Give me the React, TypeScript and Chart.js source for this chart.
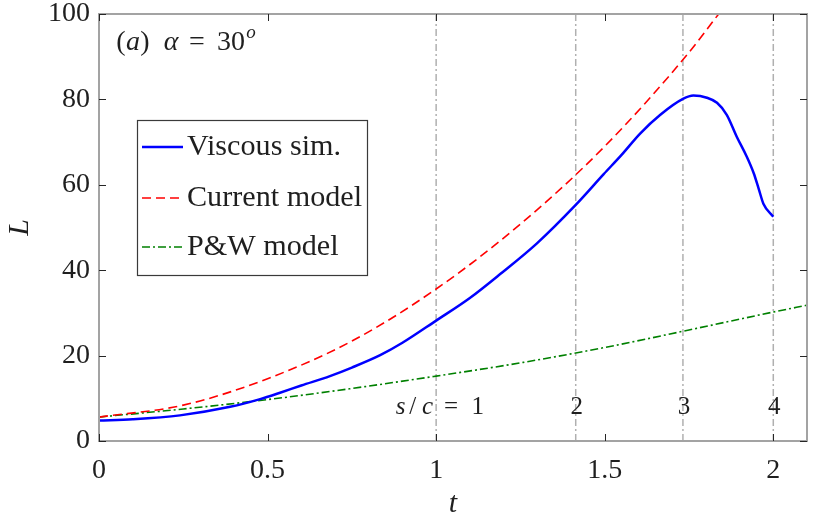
import { useEffect, useRef } from 'react';
import { Chart, registerables } from 'chart.js';

Chart.register(...registerables);

// ---- data ----
const viscousT = [0, 0.1, 0.24, 0.389, 0.478, 0.537, 0.6, 0.685, 0.75, 0.834, 0.9, 1.0, 1.1, 1.19, 1.299, 1.414, 1.497, 1.55, 1.605, 1.665, 1.732, 1.763, 1.803, 1.833, 1.862, 1.892, 1.92, 1.942, 1.957, 1.971, 2.0];
const viscousL = [4.8, 5.1, 6.0, 8.0, 9.8, 11.3, 13.0, 15.2, 17.2, 20.1, 23.0, 28.2, 33.5, 39.1, 46.3, 55.3, 62.5, 67.0, 72.0, 76.4, 80.1, 80.9, 80.4, 79.2, 76.4, 71.2, 66.8, 62.7, 59.0, 55.5, 52.5];

const currentT = [0, 0.25, 0.5, 0.75, 1.0, 1.25, 1.5, 1.75, 1.838, 1.86];
const currentL = [5.6, 8.4, 14.6, 23.4, 35.6, 50.8, 69.0, 91.0, 100, 102.2];

const pwT = [0, 0.25, 0.5, 0.75, 1.0, 1.25, 1.5, 1.75, 2.0, 2.1];
const pwL = [5.6, 7.5, 9.7, 12.3, 15.2, 18.3, 21.9, 26.0, 30.2, 31.8];

const seriesLabels = ['Viscous sim.', 'Current model', 'P&W model'];
const seriesColors = ['#0000ff', '#ff0000', '#008000'];

const sLineT = [1, 1.414, 1.732, 2];
const sLineLabels = ['1', '2', '3', '4'];

const xTicks = [0, 0.5, 1, 1.5, 2];
const yTicks = [0, 20, 40, 60, 80, 100];

const SERIF = "'Liberation Serif', 'Times New Roman', serif";
const TXT = '#1f1f1f';

const toPts = (xs: number[], ys: number[]) => xs.map((x, i) => ({ x, y: ys[i] }));

const decor = {
  id: 'decor',
  beforeDraw(chart: any) {
    const { ctx, width, height } = chart;
    ctx.save();
    ctx.fillStyle = '#ffffff';
    ctx.fillRect(0, 0, width, height);
    ctx.restore();
  },
  afterDatasetsDraw(chart: any) {
    const { ctx, chartArea: a, scales } = chart;
    const xs = scales.x, ys = scales.y;
    ctx.save();
    ctx.strokeStyle = '#a3a3a3';
    ctx.lineWidth = 2;
    ctx.strokeRect(a.left, a.top, a.right - a.left, a.bottom - a.top);
    ctx.strokeStyle = '#262626';
    ctx.lineWidth = 1;
    const tl = 7;
    ctx.beginPath();
    xTicks.forEach((v) => {
      const px = Math.round(xs.getPixelForValue(v)) + 0.5;
      ctx.moveTo(px, a.bottom); ctx.lineTo(px, a.bottom - tl);
      ctx.moveTo(px, a.top); ctx.lineTo(px, a.top + tl);
    });
    yTicks.forEach((v) => {
      const py = Math.round(ys.getPixelForValue(v)) + 0.5;
      ctx.moveTo(a.left, py); ctx.lineTo(a.left + tl, py);
      ctx.moveTo(a.right, py); ctx.lineTo(a.right - tl, py);
    });
    ctx.stroke();
    ctx.restore();
  },
  afterDraw(chart: any) {
    const { ctx, chartArea: a, scales } = chart;
    const xs = scales.x;
    ctx.save();
    ctx.fillStyle = TXT;
    ctx.textBaseline = 'alphabetic';
    ctx.textAlign = 'center';

    // title (a) alpha = 30^o
    const up = `28px ${SERIF}`;
    const it = `italic 28px ${SERIF}`;
    const segs: [string, string, number, number][] = [
      ['(', up, 121, 50], ['a', it, 133, 50], [')', up, 145, 50],
      ['\u03b1', it, 171, 50], ['=', up, 197, 50], ['30', up, 231, 50],
      ['o', `italic 19px ${SERIF}`, 251, 38],
    ];
    segs.forEach(([t, f, x, y]) => { ctx.font = f; ctx.fillText(t, x, y); });

    // s/c labels
    sLineT.forEach((tv, i) => {
      const px = xs.getPixelForValue(tv);
      if (i === 0) {
        const parts: [string, string, number][] = [
          ['s', `italic 25px ${SERIF}`, -35.5], ['/', `25px ${SERIF}`, -23.5],
          ['c', `italic 25px ${SERIF}`, -8.5], ['=', `25px ${SERIF}`, 15],
          [sLineLabels[0], `25px ${SERIF}`, 41.5],
        ];
        parts.forEach(([t, f, dx]) => { ctx.font = f; ctx.fillText(t, px + dx, 414); });
      } else {
        ctx.font = `25px ${SERIF}`;
        ctx.fillText(sLineLabels[i], px + 1, 414);
      }
    });

    // axis titles
    ctx.font = `italic 30px ${SERIF}`;
    ctx.fillText('t', (a.left + a.right) / 2, 512);
    ctx.save();
    ctx.translate(28, (a.top + a.bottom) / 2);
    ctx.rotate(-Math.PI / 2);
    ctx.fillText('L', 0, 0);
    ctx.restore();

    // legend
    const lx = 137, ly = 120, lw = 230, lh = 155;
    ctx.fillStyle = '#ffffff';
    ctx.fillRect(lx, ly, lw, lh);
    ctx.strokeStyle = '#3a3a3a';
    ctx.lineWidth = 1.2;
    ctx.strokeRect(lx + 0.5, ly + 0.5, lw, lh);
    const rows = [147, 198, 247];
    chart.data.datasets.slice(0, 3).forEach((ds: any, i: number) => {
      const ry = rows[i];
      ctx.save();
      ctx.strokeStyle = ds.borderColor;
      ctx.lineWidth = ds.borderWidth;
      ctx.setLineDash(ds.borderDash || []);
      ctx.beginPath();
      ctx.moveTo(142, ry);
      ctx.lineTo(183, ry);
      ctx.stroke();
      ctx.restore();
      ctx.save();
      ctx.fillStyle = TXT;
      ctx.font = `29px ${SERIF}`;
      ctx.textAlign = 'left';
      ctx.translate(187, ry + 8);
      ctx.scale(1.04, 1);
      ctx.fillText(ds.label, 0, 0);
      ctx.restore();
    });
    ctx.restore();
  },
};

export default function App() {
  const ref = useRef<HTMLCanvasElement | null>(null);

  useEffect(() => {
    if (!ref.current) return;
    const vlines = sLineT.map((tv) => ({
      label: 's/c line',
      data: [{ x: tv, y: 0 }, { x: tv, y: 100 }],
      borderColor: '#b0b0b0',
      borderWidth: 1.5,
      borderDash: [7, 3, 2, 3],
      pointRadius: 0,
      order: 10,
    }));
    const chart = new Chart(ref.current, {
      type: 'line',
      data: {
        datasets: [
          {
            label: seriesLabels[0],
            data: toPts(viscousT, viscousL),
            borderColor: seriesColors[0],
            borderWidth: 2.5,
            pointRadius: 0,
            cubicInterpolationMode: 'monotone',
            order: 0,
          },
          {
            label: seriesLabels[1],
            data: toPts(currentT, currentL),
            borderColor: seriesColors[1],
            borderWidth: 1.6,
            borderDash: [9, 5],
            pointRadius: 0,
            cubicInterpolationMode: 'monotone',
            order: 1,
          },
          {
            label: seriesLabels[2],
            data: toPts(pwT, pwL),
            borderColor: seriesColors[2],
            borderWidth: 1.6,
            borderDash: [8, 3, 2, 3],
            pointRadius: 0,
            cubicInterpolationMode: 'monotone',
            order: 2,
          },
          ...vlines,
        ] as any,
      },
      options: {
        responsive: false,
        animation: false,
        layout: { padding: { left: 0, right: 15, top: 14, bottom: 0 } },
        plugins: { legend: { display: false }, tooltip: { enabled: false } },
        scales: {
          x: {
            type: 'linear',
            min: 0,
            max: 2.1,
            grid: { display: false, drawTicks: false },
            border: { display: false },
            afterBuildTicks: (s: any) => { s.ticks = xTicks.map((v) => ({ value: v })); },
            afterFit: (s: any) => { s.height = 77; s.paddingLeft = 0; s.paddingRight = 0; },
            ticks: {
              padding: 13,
              maxRotation: 0,
              autoSkip: false,
              color: TXT,
              font: { family: SERIF, size: 28 },
              callback: (v: any) => String(v),
            },
          },
          y: {
            type: 'linear',
            min: 0,
            max: 100,
            grid: { display: false, drawTicks: false },
            border: { display: false },
            afterBuildTicks: (s: any) => { s.ticks = yTicks.map((v) => ({ value: v })); },
            afterFit: (s: any) => { s.width = 99; s.paddingTop = 0; s.paddingBottom = 0; },
            ticks: {
              padding: 9,
              autoSkip: false,
              color: TXT,
              font: { family: SERIF, size: 28 },
              callback: (v: any) => String(v),
            },
          },
        },
      },
      plugins: [decor],
    });
    return () => chart.destroy();
  }, []);

  return (
    <div style={{ position: 'fixed', left: 0, top: 0, width: 822, height: 518, background: '#fff' }}>
      <canvas ref={ref} width={822} height={518} style={{ display: 'block' }} />
    </div>
  );
}
